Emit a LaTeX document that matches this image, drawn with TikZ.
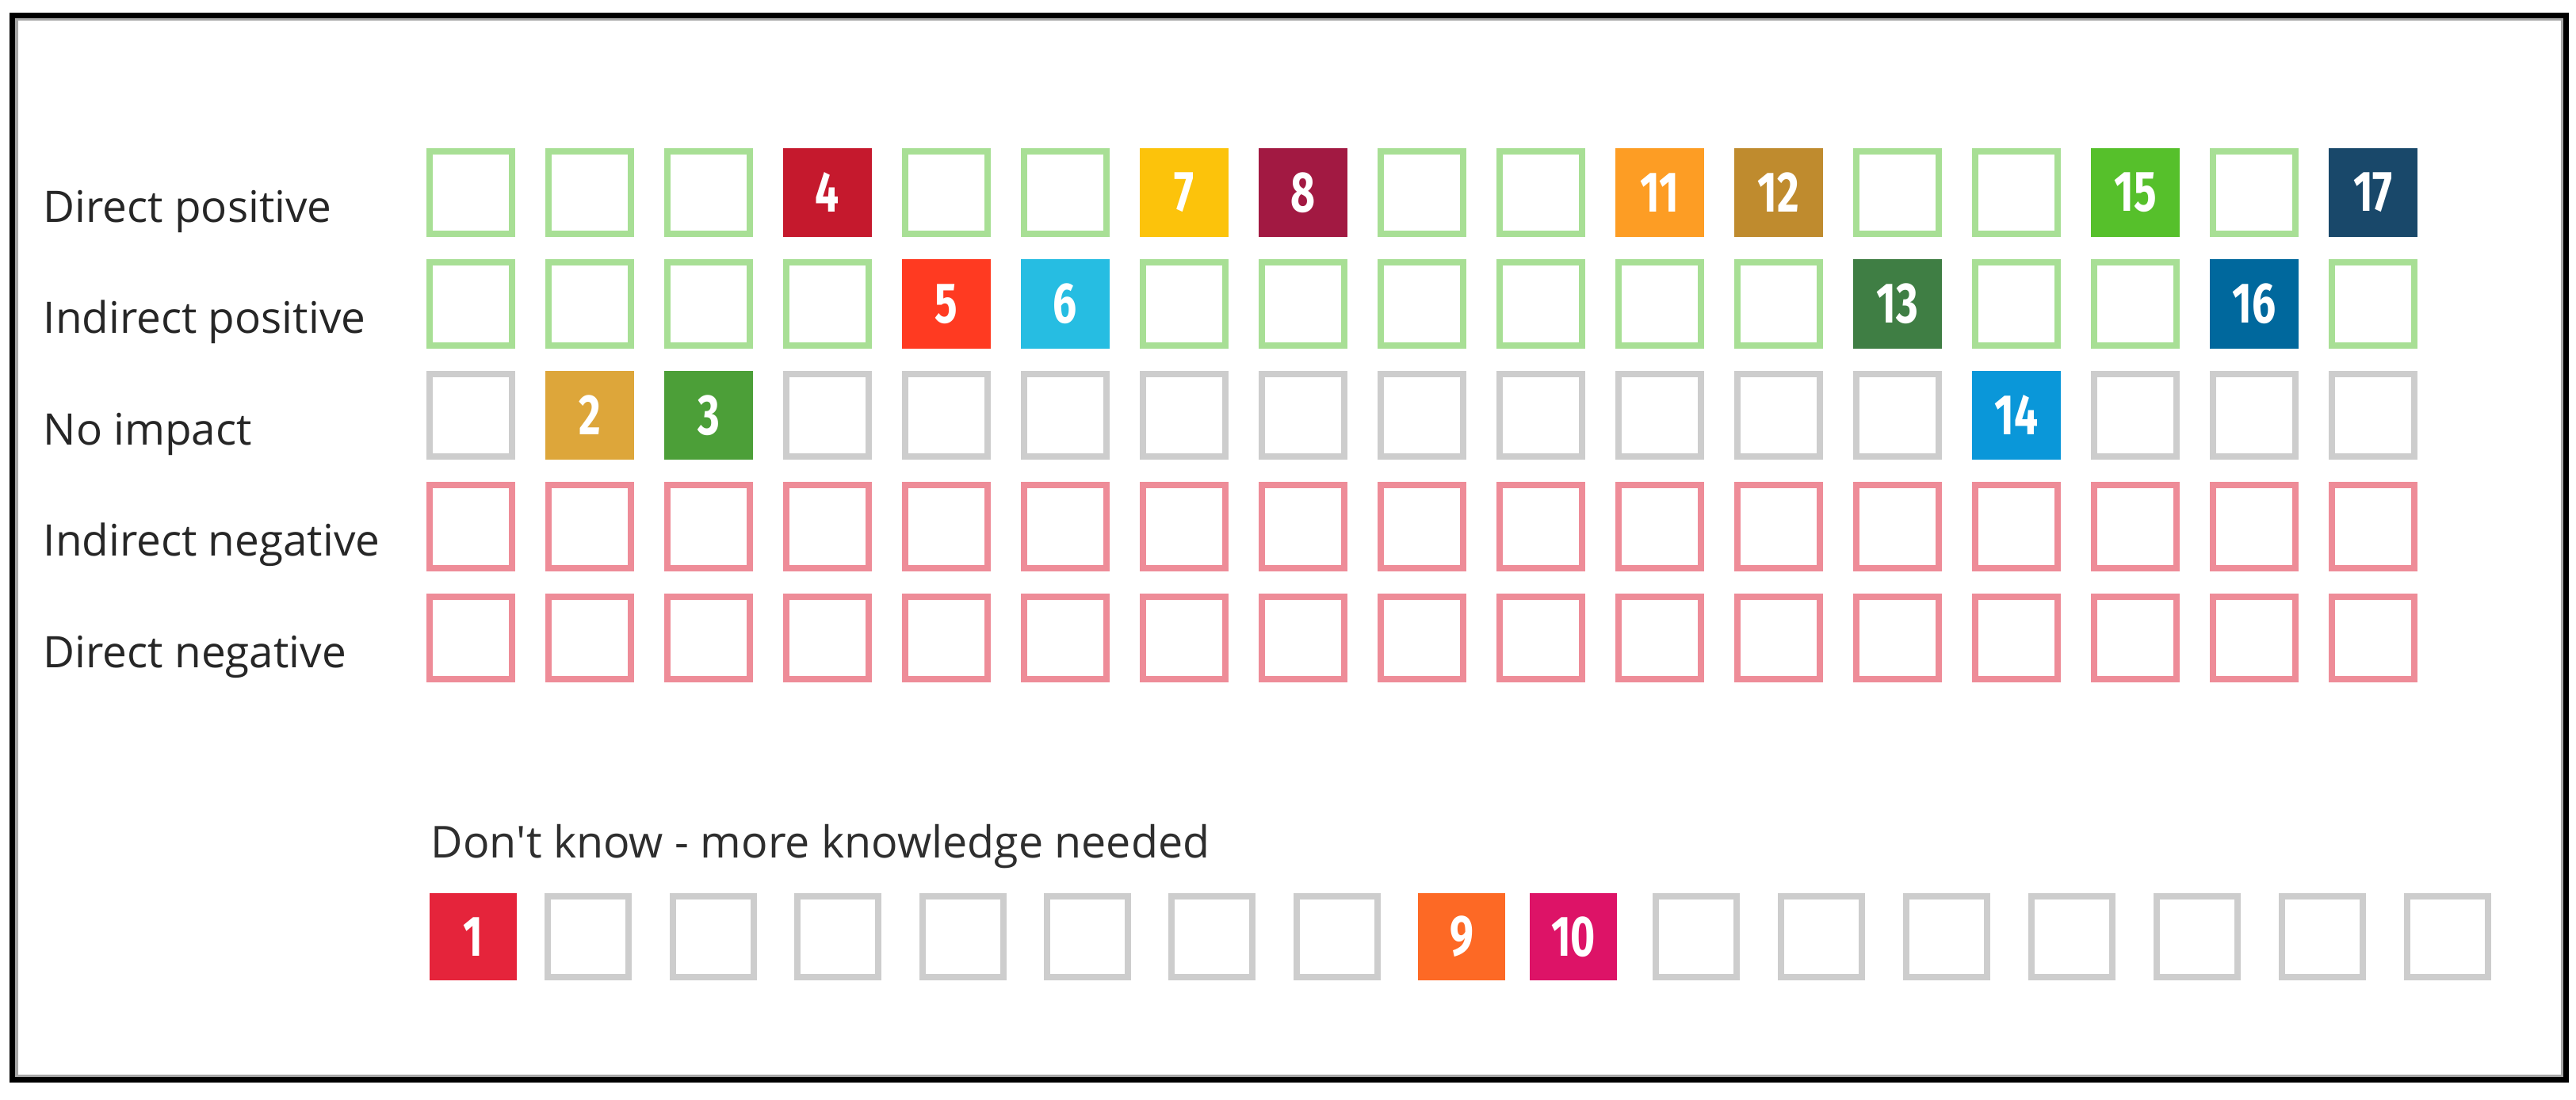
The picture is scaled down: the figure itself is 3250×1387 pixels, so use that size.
\documentclass[tikz,border=0pt]{standalone}
\usepackage{fontspec}
\setmainfont{Open Sans}
\newfontfamily\numfont{Fira Sans}
\definecolor{sdg1}{HTML}{E5243B}
\definecolor{sdg2}{HTML}{DDA63A}
\definecolor{sdg3}{HTML}{4C9F38}
\definecolor{sdg4}{HTML}{C5192D}
\definecolor{sdg5}{HTML}{FF3A21}
\definecolor{sdg6}{HTML}{26BDE2}
\definecolor{sdg7}{HTML}{FCC30B}
\definecolor{sdg8}{HTML}{A21942}
\definecolor{sdg9}{HTML}{FD6925}
\definecolor{sdg10}{HTML}{DD1367}
\definecolor{sdg11}{HTML}{FD9D24}
\definecolor{sdg12}{HTML}{BF8B2E}
\definecolor{sdg13}{HTML}{3F7E44}
\definecolor{sdg14}{HTML}{0A97D9}
\definecolor{sdg15}{HTML}{56C02B}
\definecolor{sdg16}{HTML}{00689D}
\definecolor{sdg17}{HTML}{19486A}
\definecolor{posgreen}{HTML}{A8DF95}
\definecolor{nogray}{HTML}{CDCDCD}
\definecolor{negpink}{HTML}{EE8C98}
\definecolor{labelgray}{HTML}{262626}
\newcommand{\cnum}[1]{\scalebox{0.74}[1]{#1}}
\tikzset{
  outl/.style={draw=#1, line width=0.08cm, minimum width=1.04cm, minimum height=1.04cm, inner sep=0pt, outer sep=0pt},
  outlb/.style={draw=#1, line width=0.08cm, minimum width=1.02cm, minimum height=1.02cm, inner sep=0pt, outer sep=0pt},
  sdg/.style={fill=#1, minimum width=1.12cm, minimum height=1.12cm, inner sep=0pt, outer sep=0pt, text=white, font=\numfont\bfseries\fontsize{20.5pt}{20.5pt}\selectfont},
  sdgb/.style={sdg=#1, minimum width=1.10cm, minimum height=1.10cm},
  lbl/.style={anchor=base west, inner sep=0pt, text=labelgray, font=\fontsize{15.6pt}{18pt}\selectfont},
}
\begin{document}
\begin{tikzpicture}[x=0.01cm,y=-0.01cm]
\useasboundingbox (0,0) rectangle (3250,1387);
\fill[white] (0,0) rectangle (3250,1387);
% frame
\draw[line width=0.07cm, black] (16,19) rectangle (3237,1362);
\draw[line width=0.03cm, black!35] (21,24) rectangle (3232,1357);

% row labels
\node[lbl] (lab1) at (54,280) {Direct positive};
\node[lbl] (lab2) at (54,420.5) {Indirect positive};
\node[lbl] (lab3) at (54,561) {No impact};
\node[lbl] (lab4) at (54,701.5) {Indirect negative};
\node[lbl] (lab5) at (54,842) {Direct negative};
\node[lbl, font=\fontsize{15.8pt}{18pt}\selectfont, text=black!82] (labdk) at (543,1082) {Don\textquotesingle t know - more knowledge needed};

% row 1: direct positive
\foreach \c in {1,2,3,5,6,9,10,13,14,16}
  \node[outl=posgreen] (a\c) at ({594+150*(\c-1)},243) {};
\foreach \c in {4,7,8,11,12,15,17}
  \node[sdg=sdg\c] (a\c) at ({594+150*(\c-1)},243) {\cnum{\c}};

% row 2: indirect positive
\foreach \c in {1,2,3,4,7,8,9,10,11,12,14,15,17}
  \node[outl=posgreen] (b\c) at ({594+150*(\c-1)},383.5) {};
\foreach \c in {5,6,13,16}
  \node[sdg=sdg\c] (b\c) at ({594+150*(\c-1)},383.5) {\cnum{\c}};

% row 3: no impact
\foreach \c in {1,4,5,6,7,8,9,10,11,12,13,15,16,17}
  \node[outl=nogray] (n\c) at ({594+150*(\c-1)},524) {};
\foreach \c in {2,3,14}
  \node[sdg=sdg\c] (n\c) at ({594+150*(\c-1)},524) {\cnum{\c}};

% row 4: indirect negative
\foreach \c in {1,...,17}
  \node[outl=negpink] (p\c) at ({594+150*(\c-1)},664.5) {};

% row 5: direct negative
\foreach \c in {1,...,17}
  \node[outl=negpink] (q\c) at ({594+150*(\c-1)},805) {};

% don't know row
\foreach \c/\x in {2/742,3/900,4/1057,5/1215,6/1372,7/1529,8/1687,11/2140,12/2298,13/2456,14/2614,15/2772,16/2930,17/3088}
  \node[outlb=nogray] (k\c) at (\x,1182) {};
\foreach \c/\x in {1/597,9/1844,10/1985}
  \node[sdgb=sdg\c] (k\c) at (\x,1182) {\cnum{\c}};
\end{tikzpicture}
\end{document}
